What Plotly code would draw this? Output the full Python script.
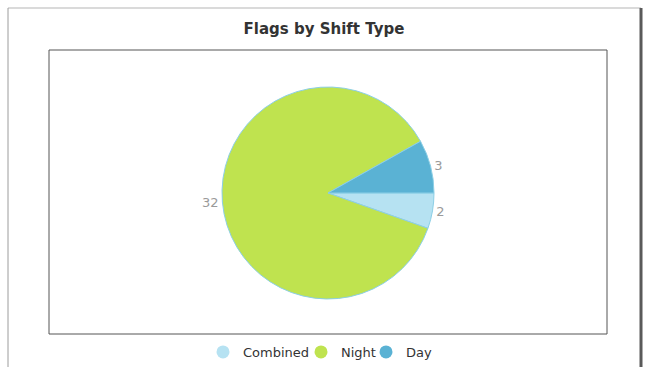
import plotly.graph_objects as go

# Shift types and the number of flags raised in each
shift_types = ["Combined", "Night", "Day"]
flag_counts = [2, 32, 3]
slice_colors = ["#b6e2f2", "#bfe34f", "#5ab2d4"]

W, H = 651, 367


def px_x(x):
    return x / W


def px_y(y):
    return 1 - y / H


fig = go.Figure()

fig.add_trace(go.Pie(
    labels=shift_types,
    values=flag_counts,
    sort=False,
    direction="clockwise",
    rotation=90,
    marker=dict(colors=slice_colors, line=dict(color="#8ccfe6", width=1)),
    textinfo="value",
    textposition="outside",
    textfont=dict(family="DejaVu Sans", size=13, color="#9a9a9a"),
    outsidetextfont=dict(family="DejaVu Sans", size=13, color="#9a9a9a"),
    domain=dict(x=[px_x(160), px_x(496)], y=[px_y(299), px_y(87)]),
    showlegend=False,
    hoverinfo="label+value",
))

# Legend entries with round markers, one small legend per shift type
legend_text_x = [243, 341, 406]
legend_names = ["legend", "legend2", "legend3"]
for name, color, lg in zip(shift_types, slice_colors, legend_names):
    fig.add_trace(go.Scatter(
        x=[None], y=[None], mode="markers", name=name, legend=lg,
        marker=dict(symbol="circle", size=13, color=color,
                    line=dict(color=color, width=0)),
    ))

frame = "#9c9c9c"
shapes = [
    # outer frame
    dict(type="line", xref="paper", yref="paper", x0=px_x(8), x1=px_x(641),
         y0=px_y(8), y1=px_y(8), line=dict(color="#b5b5b5", width=1)),
    dict(type="line", xref="paper", yref="paper", x0=px_x(8), x1=px_x(8),
         y0=px_y(8), y1=0, line=dict(color=frame, width=1)),
    dict(type="line", xref="paper", yref="paper", x0=px_x(641), x1=px_x(641),
         y0=px_y(8), y1=0, line=dict(color="#5a5a5a", width=3)),
    # plot box
    dict(type="rect", xref="paper", yref="paper", x0=px_x(49), x1=px_x(607),
         y0=px_y(334), y1=px_y(50), line=dict(color="#555555", width=1)),
]

legend_style = dict(orientation="h", xanchor="left", y=px_y(352), yanchor="middle",
                    font=dict(family="DejaVu Sans", size=13, color="#333333"),
                    bgcolor="rgba(0,0,0,0)", borderwidth=0)

fig.update_layout(
    width=W, height=H,
    margin=dict(l=0, r=0, t=0, b=0),
    paper_bgcolor="white",
    plot_bgcolor="white",
    shapes=shapes,
    title=dict(text="<b>Flags by Shift Type</b>", x=px_x(324), xanchor="center",
               y=px_y(29), yanchor="middle",
               font=dict(family="DejaVu Sans", size=15, color="#333333")),
    xaxis=dict(visible=False, domain=[0, 0.01]),
    yaxis=dict(visible=False, domain=[0, 0.01]),
    legend=dict(x=px_x(legend_text_x[0] - 40), **legend_style),
    legend2=dict(x=px_x(legend_text_x[1] - 40), **legend_style),
    legend3=dict(x=px_x(legend_text_x[2] - 40), **legend_style),
)

fig.write_html("out.html")
